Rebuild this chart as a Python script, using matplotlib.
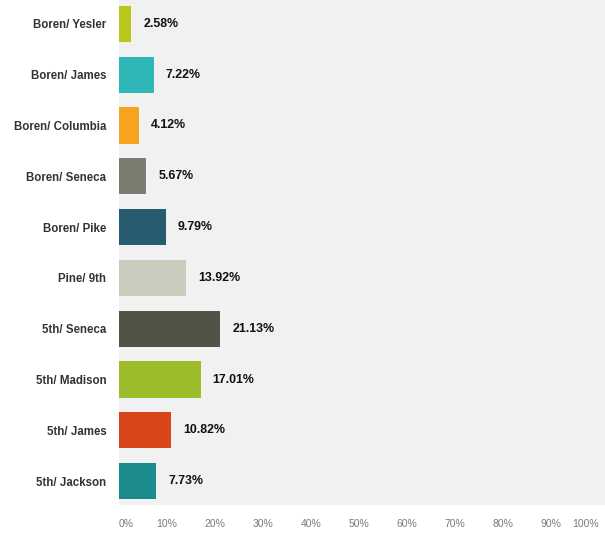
import matplotlib
matplotlib.use("Agg")
import matplotlib.pyplot as plt
from matplotlib.transforms import offset_copy

categories = ["Boren/ Yesler", "Boren/ James", "Boren/ Columbia", "Boren/ Seneca",
              "Boren/ Pike", "Pine/ 9th", "5th/ Seneca", "5th/ Madison",
              "5th/ James", "5th/ Jackson"]
values = [2.58, 7.22, 4.12, 5.67, 9.79, 13.92, 21.13, 17.01, 10.82, 7.73]
colors = ["#b8c61e", "#2fb7b7", "#f6a41e", "#7b7d70", "#275c70",
          "#c9cbbd", "#4f5447", "#9dbc2b", "#d8451a", "#1b8b8d"]
xticks = [0, 10, 20, 30, 40, 50, 60, 70, 80, 90, 100]
xticklabels = ["0%", "10%", "20%", "30%", "40%", "50%", "60%", "70%", "80%", "90%", "100%"]

plt.rcParams['font.family'] = ['Liberation Sans', 'DejaVu Sans']

fig = plt.figure(figsize=(6.05, 5.37), dpi=100)
fig.patch.set_facecolor("white")
ax = fig.add_axes([119/605, 32/537, 1 - 119/605, 1 - 32/537])
ax.set_facecolor("#f1f1f1")

y = list(range(len(categories)))
ax.barh(y, values, height=0.71, color=colors)
ax.set_ylim(len(categories) - 0.53, -0.47)
ax.set_xlim(0, 101.25)

ax.set_yticks(y)
ax.set_yticklabels(categories, fontsize=8.3, fontweight='bold', color='#333333')
ax.set_xticks(xticks)
ax.set_xticklabels(xticklabels, fontsize=7.5, color='#7a7a7a')
ax.tick_params(axis='y', length=0, pad=9)
ax.tick_params(axis='x', length=0, pad=10)
xl = ax.get_xticklabels()
xl[0].set_ha('left')
xl[-1].set_ha('right')
for s in ax.spines.values():
    s.set_visible(False)

trans = offset_copy(ax.transData, fig=fig, x=12, y=0, units='dots')
for yi, v in zip(y, values):
    ax.text(v, yi, f"{v:.2f}%", transform=trans, ha='left', va='center',
            fontsize=8.9, fontweight='bold', color='#111111')

fig.savefig("out.png", dpi=100)
